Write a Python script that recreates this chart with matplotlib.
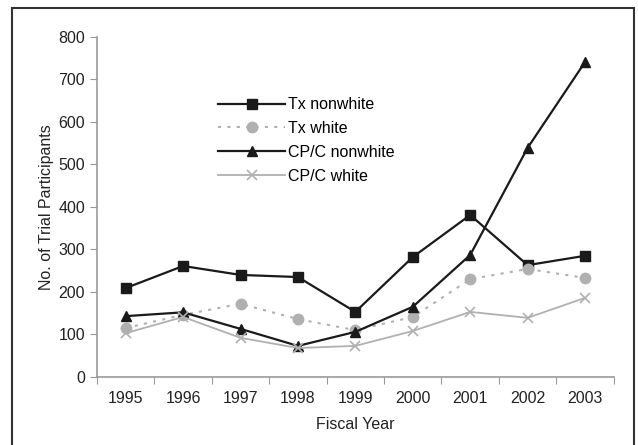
import matplotlib
matplotlib.use("Agg")
import matplotlib.pyplot as plt
from matplotlib.patches import Rectangle

matplotlib.rcParams['font.family'] = ['Liberation Sans', 'DejaVu Sans']
matplotlib.rcParams['font.size'] = 11.5

years = ["1995", "1996", "1997", "1998", "1999", "2000", "2001", "2002", "2003"]
tx_nonwhite = [209, 261, 240, 235, 153, 282, 381, 263, 285]
tx_white = [115, 146, 172, 136, 110, 141, 230, 254, 233]
cpc_nonwhite = [143, 152, 113, 73, 106, 165, 287, 539, 741]
cpc_white = [103, 141, 92, 68, 73, 108, 153, 139, 186]

fig = plt.figure(figsize=(6.38, 4.45), dpi=100)
ax = fig.add_axes([0.152, 0.153, 0.81, 0.764])
x = range(len(years))

ax.plot(x, tx_nonwhite, color="#1a1a1a", lw=1.6, marker="s", ms=7.5, label="Tx nonwhite")
ax.plot(x, tx_white, color="#b0b0b0", lw=1.5, ls=(0, (1.5, 3)), marker="o", ms=7.5,
        label="Tx white")
ax.plot(x, cpc_nonwhite, color="#1a1a1a", lw=1.6, marker="^", ms=7.5, label="CP/C nonwhite")
ax.plot(x, cpc_white, color="#b0b0b0", lw=1.3, marker="x", ms=7.5, mew=1.2,
        label="CP/C white")

ax.set_xlim(-0.5, len(years) - 0.5)
ax.set_ylim(0, 800)
ax.set_yticks(range(0, 801, 100))
ax.set_xticks([i - 0.5 for i in range(len(years) + 1)], minor=False)
ax.set_xticklabels([])
ax.set_xticks(list(x), minor=True)
ax.set_xticklabels(years, minor=True)
ax.tick_params(axis="x", which="minor", length=0, pad=10, colors="#222222")
ax.tick_params(axis="x", which="major", length=5, color="#999999", direction="out")
ax.tick_params(axis="y", length=5, color="#999999", direction="out", colors="#222222")

for s in ["top", "right"]:
    ax.spines[s].set_visible(False)
for s in ["left", "bottom"]:
    ax.spines[s].set_color("#999999")
    ax.spines[s].set_linewidth(1.2)

ax.set_xlabel("Fiscal Year", color="#222222", labelpad=8)
ax.set_ylabel("No. of Trial Participants", color="#222222", labelpad=3)

ax.legend(loc="upper left", bbox_to_anchor=(0.219, 0.846), frameon=False,
          handlelength=4.2, handletextpad=0.2, labelspacing=0.55, borderpad=0)

fig.patches.append(Rectangle((12 / 638, -0.1), 622 / 638, 1.1 - 8 / 445,
                             transform=fig.transFigure, fill=False,
                             edgecolor="#333333", lw=1.5))

fig.savefig("out.png", dpi=100)
